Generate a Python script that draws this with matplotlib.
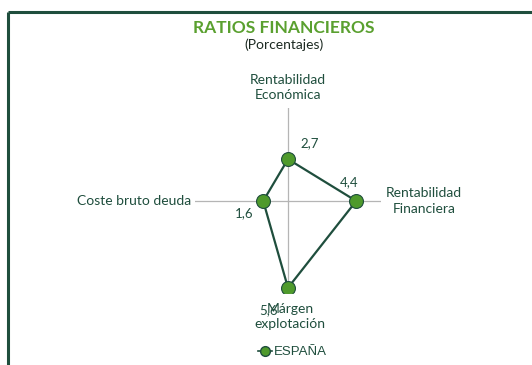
import numpy as np
import matplotlib.pyplot as plt
from matplotlib.lines import Line2D

# data
categories = ["Rentabilidad\nEconómica", "Rentabilidad\nFinanciera",
              "Márgen\nexplotación", "Coste bruto deuda"]
values = [2.7, 4.4, 5.6, 1.6]
value_labels = ["2,7", "4,4", "5,6", "1,6"]
series_name = "ESPAÑA"
r_max = 6

dark = "#1f4e3d"
green = "#4f9a2c"
px = 0.72  # points per pixel at dpi 100

fig = plt.figure(figsize=(5.32, 3.65), dpi=100)
fig.patch.set_facecolor("white")

# frame of the chart box (only top and left visible)
fig.add_artist(Line2D([8/532, 8/532], [0, 1 - 12/365], color=dark, lw=2.2,
                      transform=fig.transFigure, solid_capstyle="butt"))
fig.add_artist(Line2D([8/532, 1], [1 - 12/365, 1 - 12/365], color=dark, lw=2.2,
                      transform=fig.transFigure, solid_capstyle="butt"))

fig.text(284/532, 1 - 28/365, "RATIOS FINANCIEROS", ha="center", va="center",
         fontsize=12.5, fontweight="bold", color="#5aa02f", family="Lato")
fig.text(284/532, 1 - 45/365, "(Porcentajes)", ha="center", va="center",
         fontsize=10, color="#1c2a22", family="Lato")

ax = fig.add_axes([195/532, 71/365, 186/532, 186/365], projection="polar")
ax.set_theta_zero_location("N")
ax.set_theta_direction(-1)
ax.set_ylim(0, r_max)
ax.set_xticks([])
ax.set_yticks([])
ax.grid(False)
ax.spines["polar"].set_visible(False)
ax.patch.set_alpha(0)

theta = np.arange(len(categories)) * 2 * np.pi / len(categories)

# spokes
for t in theta:
    ax.plot([t, t], [0, r_max], color="#b5b5b5", lw=0.9, zorder=1)

t_closed = np.append(theta, theta[0])
v_closed = np.append(values, values[0])
ax.plot(t_closed, v_closed, color=dark, lw=1.6, zorder=2)
ax.plot(theta, values, "o", ms=10, mfc=green, mec=dark, mew=0.8, zorder=3)

# category labels
cat_pos = [((0, 7), "center", "bottom"), ((5, 0), "left", "center"),
           ((2, -9), "center", "top"), ((-4, 0), "right", "center")]
for t, lab, (off, ha, va) in zip(theta, categories, cat_pos):
    ax.annotate(lab, xy=(t, r_max), xytext=(off[0]*px, off[1]*px),
                textcoords="offset points", ha=ha, va=va, multialignment="center",
                fontsize=10, color=dark, family="Lato", linespacing=1.35,
                annotation_clip=False)

# value labels
val_off = [(22, 16), (-7, 19), (-19, -22), (-19, -12)]
for t, v, lab, off in zip(theta, values, value_labels, val_off):
    ax.annotate(lab, xy=(t, v), xytext=(off[0]*px, off[1]*px),
                textcoords="offset points", ha="center", va="center",
                fontsize=9.5, color=dark, family="Lato", annotation_clip=False)

# legend
handle = Line2D([], [], color=dark, lw=1.2, marker="o", ms=7, mfc=green, mec=dark)
leg = fig.legend([handle], [series_name], loc="center", bbox_to_anchor=(292/532, 1 - 352/365),
                 frameon=False, handlelength=1.1, handletextpad=0.1,
                 prop={"family": "Liberation Sans", "size": 9.5})
for txt in leg.get_texts():
    txt.set_color(dark)

fig.savefig("out.png", dpi=100)
